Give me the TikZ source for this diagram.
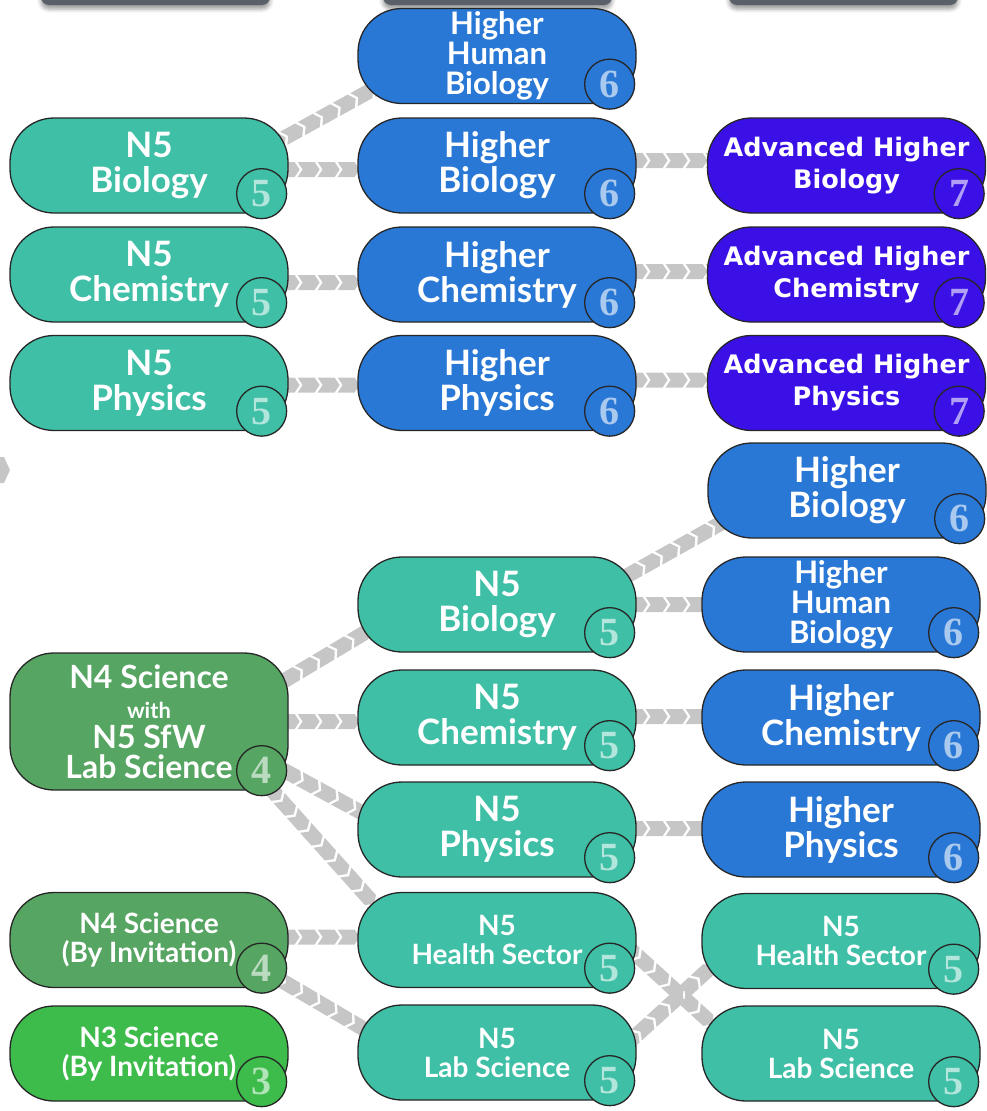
\documentclass[tikz,border=0pt]{standalone}
\usepackage{fontspec}
\setmainfont{Lato}
\newfontfamily\ahfont{DejaVu Sans}
\newfontfamily\numfont{Liberation Serif}
\usetikzlibrary{calc,decorations.markings,shadows.blur}
\pgfdeclarelayer{bg}
\pgfsetlayers{bg,main}
\definecolor{teal5}{HTML}{3FBFA6}
\definecolor{blue6}{HTML}{2A78D6}
\definecolor{violet7}{HTML}{3A10E6}
\definecolor{green4}{HTML}{56A562}
\definecolor{green3}{HTML}{3DBB4B}
\definecolor{chevgray}{HTML}{C6C6C6}
\definecolor{topgray}{HTML}{5A6068}
\tikzset{
  course/.style={draw=black!85, line width=1.3pt, rounded corners=44pt,
    minimum width=278pt, minimum height=95pt, inner sep=0pt, align=center,
    text=white, font=\bfseries\fontsize{35}{35}\selectfont},
  badge/.style={circle, draw=black!85, line width=1.3pt, minimum size=50pt,
    inner sep=0pt, font=\numfont\bfseries\fontsize{40}{40}\selectfont},
  chev/.style={decoration={markings, mark=between positions 0 and 1 step 20pt with
    {\fill[chevgray] (-5pt,-7.5pt) -- (12pt,-7.5pt) -- (17pt,0pt) -- (12pt,7.5pt) -- (-5pt,7.5pt) -- (0pt,0pt) -- cycle;}},
    decorate},
  topbox/.style={fill=topgray, rounded corners=8pt, minimum width=229pt, minimum height=40pt,
    blur shadow={shadow xshift=0pt, shadow yshift=-4pt, shadow blur radius=4pt}},
  smallf/.style={font=\bfseries\fontsize{28}{29}\selectfont},
  threef/.style={font=\bfseries\fontsize{31}{30}\selectfont},
  ahf/.style={font=\ahfont\bfseries\fontsize{25.5}{32}\selectfont},
}
\newcommand\mkcourse[5][]{%
  \node[course, fill=#4, #1] (#2) at (#3) {#5};
}
\newcommand\mkbadge[3]{%
  \node[badge, fill=#2, text=#2!40!white] (#1-n) at ($(#1.south east)+(-27,-20)$) {#3};
}
\begin{document}
\begin{tikzpicture}[x=1pt,y=-1pt]
\useasboundingbox (0,0) rectangle (987,1111);
% top partial boxes
\node[topbox] (topA) at (155.5,-15) {};
\node[topbox] (topB) at (497.5,-15) {};
\node[topbox] (topC) at (843.5,-15) {};
% left column
\mkcourse{n5bL}{149,165.5}{teal5}{N5\\Biology}
\mkcourse{n5cL}{149,274.5}{teal5}{N5\\Chemistry}
\mkcourse{n5pL}{149,383}{teal5}{N5\\Physics}
\mkcourse[minimum height=137pt, font=\bfseries\fontsize{32}{30}\selectfont]{n4sfw}{149,721.5}{green4}{N4 Science\\{\fontsize{22}{22}\selectfont with}\\N5 SfW\\Lab Science}
\mkcourse[smallf]{n4inv}{149,940}{green4}{N4 Science\\(By Invitation)}
\mkcourse[smallf]{n3inv}{149,1053.5}{green3}{N3 Science\\(By Invitation)}
% middle column
\mkcourse[threef]{hhbM}{497,56}{blue6}{Higher\\Human\\Biology}
\mkcourse{hbM}{497,165.5}{blue6}{Higher\\Biology}
\mkcourse{hcM}{497,274.5}{blue6}{Higher\\Chemistry}
\mkcourse{hpM}{497,383}{blue6}{Higher\\Physics}
\mkcourse{n5bM}{497,604.5}{teal5}{N5\\Biology}
\mkcourse{n5cM}{497,717.5}{teal5}{N5\\Chemistry}
\mkcourse{n5pM}{497,829.5}{teal5}{N5\\Physics}
\mkcourse[smallf]{n5hM}{497,940}{teal5}{N5\\Health Sector}
\mkcourse[smallf]{n5lM}{497,1052.5}{teal5}{N5\\Lab Science}
% right column
\mkcourse[ahf]{ahb}{846.5,165.5}{violet7}{Advanced Higher\\Biology}
\mkcourse[ahf]{ahc}{846.5,274.5}{violet7}{Advanced Higher\\Chemistry}
\mkcourse[ahf]{ahp}{846.5,383}{violet7}{Advanced Higher\\Physics}
\mkcourse{hbR}{847,490.5}{blue6}{Higher\\Biology}
\mkcourse[threef]{hhbR}{841,604.5}{blue6}{Higher\\Human\\Biology}
\mkcourse{hcR}{841,717.5}{blue6}{Higher\\Chemistry}
\mkcourse{hpR}{841,829.5}{blue6}{Higher\\Physics}
\mkcourse[smallf]{n5hR}{841,941}{teal5}{N5\\Health Sector}
\mkcourse[smallf]{n5lR}{841,1053.5}{teal5}{N5\\Lab Science}
% badges
\mkbadge{n5bL}{teal5}{5}
\mkbadge{n5cL}{teal5}{5}
\mkbadge{n5pL}{teal5}{5}
\mkbadge{n4sfw}{green4}{4}
\mkbadge{n4inv}{green4}{4}
\mkbadge{n3inv}{green3}{3}
\mkbadge{hhbM}{blue6}{6}
\mkbadge{hbM}{blue6}{6}
\mkbadge{hcM}{blue6}{6}
\mkbadge{hpM}{blue6}{6}
\mkbadge{n5bM}{teal5}{5}
\mkbadge{n5cM}{teal5}{5}
\mkbadge{n5pM}{teal5}{5}
\mkbadge{n5hM}{teal5}{5}
\mkbadge{n5lM}{teal5}{5}
\mkbadge{ahb}{violet7}{7}
\mkbadge{ahc}{violet7}{7}
\mkbadge{ahp}{violet7}{7}
\mkbadge{hbR}{blue6}{6}
\mkbadge{hhbR}{blue6}{6}
\mkbadge{hcR}{blue6}{6}
\mkbadge{hpR}{blue6}{6}
\mkbadge{n5hR}{teal5}{5}
\mkbadge{n5lR}{teal5}{5}
% connectors
\begin{pgfonlayer}{bg}
\path[chev] ($(n5bL.east)+(-18,-20)$) -- ($(hhbM.west)+(27,27)$);
\path[chev] ($(n5bL.east)+(-6,4)$) -- ($(hbM.west)+(6,4)$);
\path[chev] ($(n5cL.east)+(-6,8)$) -- ($(hcM.west)+(6,8)$);
\path[chev] ($(n5pL.east)+(-6,2)$) -- ($(hpM.west)+(6,2)$);
\path[chev] ($(hbM.east)+(-6,-5)$) -- ($(ahb.west)+(6,-5)$);
\path[chev] ($(hcM.east)+(-6,-3)$) -- ($(ahc.west)+(6,-3)$);
\path[chev] ($(hpM.east)+(-6,-3)$) -- ($(ahp.west)+(6,-3)$);
\path[chev] ($(n5bM.east)+(-26,-19.5)$) -- ($(hbR.west)+(22,28)$);
\path[chev] ($(n5bM.east)+(-6,0)$) -- ($(hhbR.west)+(6,0)$);
\path[chev] ($(n5cM.east)+(-6,-1)$) -- ($(hcR.west)+(6,-1)$);
\path[chev] ($(n5pM.east)+(-6,-1)$) -- ($(hpR.west)+(6,-1)$);
\path[chev] ($(n4sfw.east)+(-20,-31.5)$) -- ($(n5bM.west)+(27,16.5)$);
\path[chev] ($(n4sfw.east)+(-6,0)$) -- ($(n5cM.west)+(6,4)$);
\path[chev] ($(n4sfw.east)+(-20,40.5)$) -- ($(n5pM.west)+(27,-4.5)$);
\path[chev] ($(n4sfw.east)+(-33,50.5)$) -- ($(n5hM.west)+(22,-30)$);
\path[chev] ($(n4inv.east)+(-6,-3)$) -- ($(n5hM.west)+(6,-3)$);
\path[chev] ($(n4inv.east)+(-20,33)$) -- ($(n5lM.west)+(27,-11.5)$);
\path[chev] ($(n5hM.east)+(-11,5)$) -- ($(n5lR.west)+(23,-18.5)$);
\path[chev] ($(n5lM.east)+(-11,-7.5)$) -- ($(n5hR.west)+(23,14)$);
\fill[chevgray] (-6,457) -- (4,457) -- (10,470) -- (4,483) -- (-6,483) -- cycle;
\end{pgfonlayer}
\end{tikzpicture}
\end{document}
